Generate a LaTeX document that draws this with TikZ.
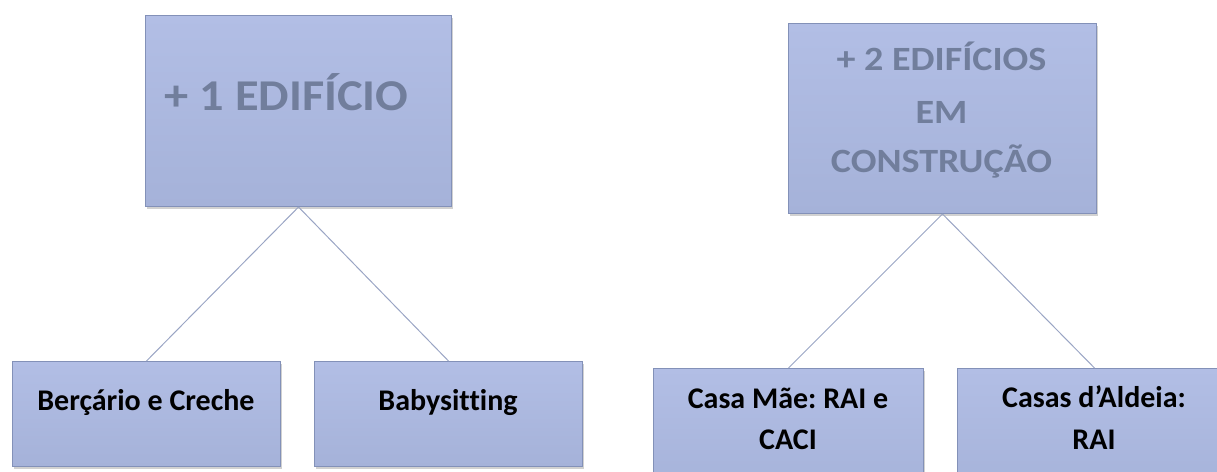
\documentclass[tikz,border=0pt]{standalone}
\usepackage{fontspec}
\setmainfont{Carlito}[Ligatures=NoCommon]
\frenchspacing
\usetikzlibrary{shadows}
\definecolor{boxtop}{HTML}{B2BEE5}
\definecolor{boxbot}{HTML}{A5B2D9}
\definecolor{boxline}{HTML}{8391B8}
\definecolor{titlecol}{HTML}{717E9C}
\definecolor{linkcol}{HTML}{9AA5C4}
\tikzset{
  box/.style={draw=boxline, line width=1pt, top color=boxtop, bottom color=boxbot,
    drop shadow={shadow xshift=1.5pt, shadow yshift=-2.5pt, opacity=0.3, fill=black!60},
    inner sep=0pt, anchor=north west},
  title/.style={text=titlecol, inner sep=0pt, anchor=base},
  label/.style={text=black, inner sep=0pt, anchor=base, font=\fontsize{30}{36}\selectfont\bfseries},
  link/.style={draw=linkcol, line width=1pt}
}
\newcommand{\bigtitle}[1]{\scalebox{1.1}[1]{\fontsize{44}{52}\selectfont\bfseries #1}}
\newcommand{\midtitle}[1]{\scalebox{1.12}[1]{\fontsize{34}{40}\selectfont\bfseries #1}}
\begin{document}
\begin{tikzpicture}[x=1pt,y=1pt]
\useasboundingbox (0,0) rectangle (1217,-471);
% parents
\node[box, minimum width=306pt, minimum height=191pt] (p1) at (145,-15) {};
\node[box, minimum width=308pt, minimum height=190pt] (p2) at (788,-23) {};
% children
\node[box, minimum width=268pt, minimum height=105pt] (c1) at (12,-361) {};
\node[box, minimum width=268pt, minimum height=105pt] (c2) at (314,-361) {};
\node[box, minimum width=270pt, minimum height=130pt] (c3) at (653,-368) {};
\node[box, minimum width=274pt, minimum height=130pt] (c4) at (957,-368) {};
% texts
\node[title] (t1) at (286.5,-110) {\bigtitle{+ 1 EDIFÍCIO}};
\node[title] (t2a) at (941.5,-70) {\midtitle{+ 2 EDIFÍCIOS}};
\node[title] (t2b) at (941.5,-123) {\midtitle{EM}};
\node[title] (t2c) at (941.5,-172) {\midtitle{CONSTRUÇÃO}};
\node[label] (l1) at (146,-410) {Berçário e Creche};
\node[label] (l2) at (448,-410) {Babysitting};
\node[label] (l3a) at (788,-408) {Casa Mãe: RAI e};
\node[label] (l3b) at (788,-449) {CACI};
\node[label] (l4a) at (1094,-407) {Casas d’Aldeia:};
\node[label] (l4b) at (1094,-449) {RAI};
% links
\draw[link] (p1.south) -- (c1.north);
\draw[link] (p1.south) -- (c2.north);
\draw[link] (p2.south) -- (c3.north);
\draw[link] (p2.south) -- (c4.north);
\end{tikzpicture}
\end{document}
